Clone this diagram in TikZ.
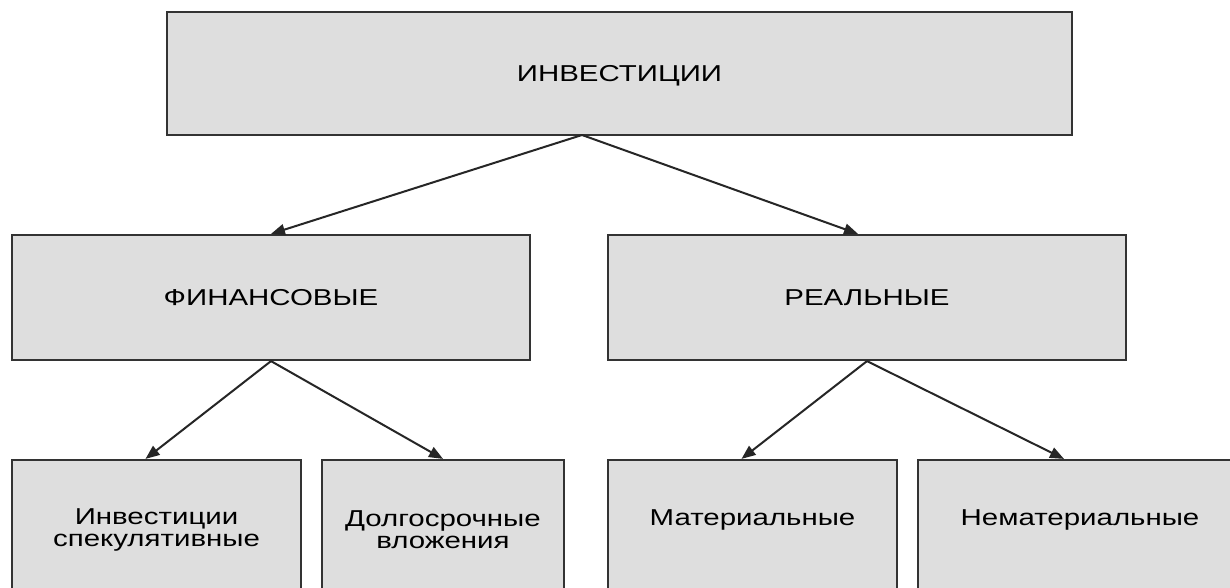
\documentclass[tikz,border=0pt]{standalone}
\usepackage{fontspec}
\setmainfont[FakeStretch=1.28]{Liberation Sans}
\usetikzlibrary{arrows.meta}

\begin{document}
\begin{tikzpicture}[x=1pt, y=-1pt,
  box/.style={draw=black!80, fill=black!13, line width=2.2pt, inner sep=0pt, align=center,
    text=black, font=\fontsize{23}{22}\selectfont},
  head/.style={box, minimum height=#1, text depth=0pt},
  leaf/.style={box, minimum height=140pt, text height=17pt, text depth=27pt},
  leaftwo/.style={box, minimum height=140pt},
  link/.style={draw=black!85, line width=2pt, -{Triangle[length=14pt,width=11pt]}}]
\clip (0,0) rectangle (1230,588);
\fill[white] (0,0) rectangle (1230,588);

\node[head=123pt, minimum width=905pt] (inv) at (619.5,73.5) {ИНВЕСТИЦИИ};
\node[head=125pt, minimum width=518pt] (fin) at (271,297.5) {ФИНАНСОВЫЕ};
\node[head=125pt, minimum width=518pt] (real) at (867,297.5) {РЕАЛЬНЫЕ};

\node[leaftwo, minimum width=289pt] (spec) at (156.5,530) {Инвестиции\\спекулятивные};
\node[leaftwo, minimum width=242pt] (long) at (443,530) {Долгосрочные\\вложения};
\node[leaf, minimum width=289pt] (mat) at (752.5,530) {Материальные};
\node[leaf, minimum width=324pt] (nonmat) at (1080,530) {Нематериальные};

\coordinate (invout) at (582,135);
\draw[link] (invout) -- (fin.north);
\draw[link] (invout) -- ([xshift=-9pt]real.north);
\draw[link] (fin.south) -- ([xshift=-11pt]spec.north);
\draw[link] (fin.south) -- (long.north);
\draw[link] (real.south) -- ([xshift=-11pt]mat.north);
\draw[link] (real.south) -- ([xshift=-16pt]nonmat.north);
\end{tikzpicture}
\end{document}
